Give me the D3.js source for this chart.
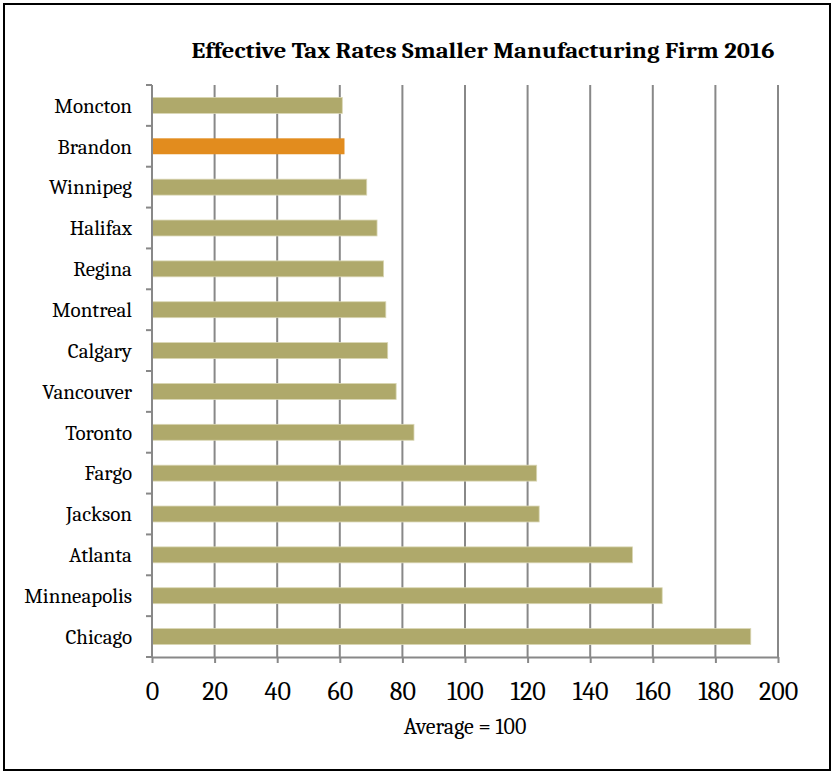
<!DOCTYPE html>
<html><head><meta charset="utf-8">
<script src="https://cdn.jsdelivr.net/npm/d3@7"></script>
<style>body{margin:0;background:#fff}svg{display:block}</style>
</head><body>
<script>
const categories = ["Moncton","Brandon","Winnipeg","Halifax","Regina","Montreal","Calgary","Vancouver","Toronto","Fargo","Jackson","Atlanta","Minneapolis","Chicago"];
const values = [60.8,61.5,68.6,71.9,74.0,74.7,75.3,78.0,83.7,122.9,123.7,153.5,163.0,191.3];
const highlight = ["Brandon"];
const xTicks = [0,20,40,60,80,100,120,140,160,180,200];
const title = "Effective Tax Rates Smaller Manufacturing Firm 2016";
const xLabel = "Average = 100";

const W = 833, H = 773;
const svg = d3.select("body").append("svg").attr("width", W).attr("height", H);
svg.append("rect").attr("x",4).attr("y",4).attr("width",826).attr("height",766)
  .attr("fill","#fff").attr("stroke","#000").attr("stroke-width",2);

const pL = 152, pR = 778, pT = 85, pB = 657;
const x = d3.scaleLinear().domain([0,200]).range([pL,pR]);
const y = d3.scaleBand().domain(categories).range([pT,pB]).paddingInner(0.61).paddingOuter(0.305);

const serif = "Cambria, 'Liberation Serif', 'DejaVu Serif', serif";

svg.append("text").attr("x",483).attr("y",58).attr("text-anchor","middle")
  .attr("font-family",serif).attr("font-weight","bold").attr("font-size",22)
  .attr("textLength",583).attr("lengthAdjust","spacingAndGlyphs").text(title);

// gridlines
svg.append("g").selectAll("line").data(xTicks.filter(d=>d>0)).join("line")
  .attr("x1",d=>x(d)).attr("x2",d=>x(d)).attr("y1",pT).attr("y2",pB)
  .attr("stroke","#888").attr("stroke-width",2);

// bars
svg.append("g").selectAll("rect").data(categories).join("rect")
  .attr("x",x(0)).attr("y",d=>y(d)).attr("height",y.bandwidth())
  .attr("width",(d,i)=>x(values[i])-x(0))
  .attr("fill",d=>highlight.includes(d)?"#E28C1E":"#AFA96B")
  .attr("stroke",d=>highlight.includes(d)?"none":"#d9d6b4").attr("stroke-width",0.8);

// x axis
const xa = svg.append("g").attr("transform",`translate(0,${pB})`)
  .call(d3.axisBottom(x).tickValues(xTicks).tickSize(6).tickSizeOuter(0).tickPadding(19));
xa.select(".domain").attr("stroke","#888").attr("stroke-width",2);
xa.selectAll(".tick line").attr("stroke","#888").attr("stroke-width",2);
xa.selectAll(".tick text").attr("font-family",serif).attr("font-size",26).attr("fill","#000");

// y axis
const ya = svg.append("g").attr("transform",`translate(${pL},0)`);
ya.append("line").attr("x1",0).attr("x2",0).attr("y1",pT).attr("y2",pB).attr("stroke","#888").attr("stroke-width",2);
const bounds = d3.range(categories.length+1).map(i=>pT + i*(pB-pT)/categories.length);
ya.selectAll("line.tk").data(bounds).join("line").attr("class","tk")
  .attr("x1",-6).attr("x2",0).attr("y1",d=>d).attr("y2",d=>d).attr("stroke","#888").attr("stroke-width",2);
ya.selectAll("text").data(categories).join("text")
  .attr("x",-20).attr("y",d=>y(d)+y.bandwidth()/2).attr("dy","0.35em")
  .attr("text-anchor","end").attr("font-family",serif).attr("font-size",21).attr("fill","#000")
  .text(d=>d);

svg.append("text").attr("x",465).attr("y",734).attr("text-anchor","middle")
  .attr("font-family",serif).attr("font-size",22).text(xLabel);
</script>
</body></html>
